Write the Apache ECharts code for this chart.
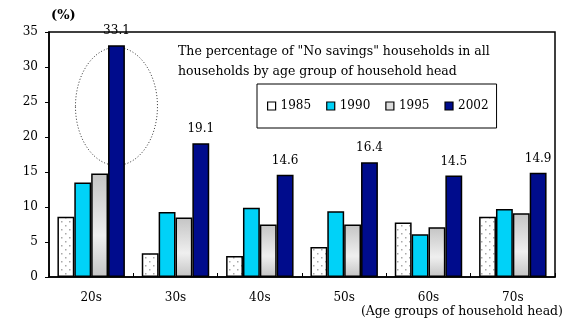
<!DOCTYPE html>
<html>
<head>
<meta charset="utf-8">
<script src="https://cdn.jsdelivr.net/npm/echarts@6/dist/echarts.min.js"></script>
<style>
  html, body { margin: 0; padding: 0; background: #fff; }
  #chart { width: 567px; height: 320px; }
</style>
</head>
<body>
<div id="chart"></div>
<script>
// Share of households with no savings, by age group of household head (%)
const categories = ['20s', '30s', '40s', '50s', '60s', '70s'];
const years = ['1985', '1990', '1995', '2002'];
const v1985 = [8.6, 3.4, 3.0, 4.3, 7.8, 8.6];
const v1990 = [13.5, 9.3, 9.9, 9.4, 6.1, 9.7];
const v1995 = [14.8, 8.5, 7.5, 7.5, 7.1, 9.1];
const v2002 = [33.1, 19.1, 14.6, 16.4, 14.5, 14.9];
const yTicks = [0, 5, 10, 15, 20, 25, 30, 35];

const SERIF = '"DejaVu Serif", "Liberation Serif", serif';

// Dotted fill used for the 1985 bars
function dotPattern() {
  const c = document.createElement('canvas');
  c.width = 8; c.height = 8;
  const g = c.getContext('2d');
  g.fillStyle = '#ffffff';
  g.fillRect(0, 0, 8, 8);
  g.fillStyle = '#a8a8a8';
  g.fillRect(1, 1, 1.5, 1.5);
  g.fillRect(5, 5, 1.5, 1.5);
  return c;
}

const grayGradient = {
  type: 'linear', x: 0, y: 0, x2: 0, y2: 1,
  colorStops: [
    { offset: 0, color: '#c4c4c4' },
    { offset: 0.6, color: '#efefef' },
    { offset: 1, color: '#c4c4c4' }
  ]
};

const fills = [
  { image: dotPattern(), repeat: 'repeat' },
  '#00d2f8',
  grayGradient,
  '#000c8c'
];
const legendFills = ['#ffffff', '#00d2f8', '#dcdcdc', '#000c8c'];
const seriesData = [v1985, v1990, v1995, v2002];

const chart = echarts.init(document.getElementById('chart'), null, { renderer: 'canvas' });

const series = years.map((y, i) => ({
  name: y,
  type: 'bar',
  data: seriesData[i],
  barGap: '0%',
  barCategoryGap: '20%',
  itemStyle: { color: fills[i], borderColor: '#000', borderWidth: 1.5 },
  label: i === 3 ? {
    show: true, position: 'top', distance: 8,
    fontFamily: SERIF, fontSize: 12, color: '#000',
    formatter: p => p.value.toFixed(1)
  } : { show: false }
}));

chart.setOption({
  animation: false,
  backgroundColor: '#fff',
  grid: {
    left: 49, right: 12, top: 32, bottom: 43,
    show: true, borderColor: '#000', borderWidth: 1.5
  },
  legend: {
    data: years.map((y, i) => ({ name: y, itemStyle: { color: legendFills[i], borderColor: '#000', borderWidth: 1.2 } })),
    left: 257, top: 84,
    padding: [16, 8, 16, 10],
    borderColor: '#000', borderWidth: 1,
    itemWidth: 8, itemHeight: 8, itemGap: 15,
    icon: 'rect',
    textStyle: { fontFamily: SERIF, fontSize: 12, color: '#000' }
  },
  xAxis: {
    type: 'category',
    data: categories,
    axisLine: { lineStyle: { color: '#000', width: 1.5 } },
    axisTick: { show: true, inside: true, length: 4, lineStyle: { color: '#000' } },
    axisLabel: { fontFamily: SERIF, fontSize: 12, color: '#000', margin: 15 }
  },
  yAxis: {
    type: 'value',
    min: yTicks[0], max: yTicks[yTicks.length - 1], interval: 5,
    name: '(%)',
    nameLocation: 'end',
    nameGap: 10,
    nameTextStyle: { fontFamily: SERIF, fontSize: 13, color: '#000', align: 'left', fontWeight: 'bold', padding: [0, 0, 0, 2] },
    axisLine: { show: true, lineStyle: { color: '#000', width: 1.5 } },
    axisTick: { show: true, length: 4, lineStyle: { color: '#000' } },
    axisLabel: { fontFamily: SERIF, fontSize: 12, color: '#000', margin: 11 },
    splitLine: { show: false }
  },
  series: series
});

// Annotation text, axis name and the dotted ellipse around the 20s peak
function drawOverlay() {
  const top = chart.convertToPixel({ gridIndex: 0 }, [0, v2002[0]]);
  const base = chart.convertToPixel({ gridIndex: 0 }, [0, v1995[0]]);
  const bandWidth = chart.getModel().getComponent('xAxis', 0).axis.getBandWidth();
  const barW = bandWidth * 0.8 / years.length;
  const cx = top[0] + 1.5 * barW;
  const cy = (top[1] + base[1]) / 2 - 3;
  chart.setOption({
    graphic: [
      {
        type: 'ellipse',
        shape: { cx: cx, cy: cy, rx: 41, ry: (base[1] - top[1]) / 2 - 5 },
        style: { fill: 'none', stroke: '#333', lineWidth: 1, lineDash: [1, 2] },
        z: 1
      },
      {
        type: 'text', left: 178, top: 42,
        style: {
          text: 'The percentage of "No savings" households in all\nhouseholds by age group of household head',
          font: '12.5px ' + SERIF, fill: '#000', lineHeight: 20
        }
      },
      {
        type: 'text', right: 4, top: 305,
        style: { text: '(Age groups of household head)', font: '12.5px ' + SERIF, fill: '#000' }
      }
    ]
  });
}
drawOverlay();
</script>
</body>
</html>
